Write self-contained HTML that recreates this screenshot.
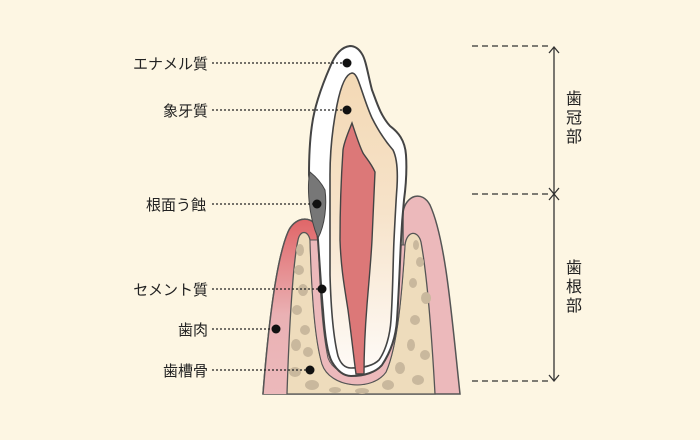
<!DOCTYPE html>
<html><head><meta charset="utf-8"><style>
body{margin:0;background:#fdf6e3;}
svg{display:block}
text{font-family:"Liberation Sans","Noto Sans CJK JP",sans-serif;fill:#222;}
</style></head><body>
<svg width="700" height="440" viewBox="0 0 700 440">
<defs>
<linearGradient id="gum" x1="0" y1="0" x2="0" y2="1">
<stop offset="0" stop-color="#e06668"/><stop offset="0.55" stop-color="#eab1b4"/><stop offset="1" stop-color="#ecb9bb"/></linearGradient>
<linearGradient id="dent" x1="0" y1="0" x2="0" y2="1">
<stop offset="0" stop-color="#f3d9b5"/><stop offset="0.45" stop-color="#f6e2c8"/><stop offset="1" stop-color="#fefaf6"/></linearGradient>
</defs>
<rect width="700" height="440" fill="#fdf6e3"/>
<!-- left gum -->
<path d="M263,394 C268,330 276,260 288,232 C294,218 310,214 317,227 L322,300 L350,386 L380,382 L403,300 L403,212 C406,195 422,190 430,205 C446,240 452,320 460,394 Z" fill="#ecb9bb" stroke="#555" stroke-width="1.5"/>
<path d="M263,394 C268,330 276,260 288,232 C294,218 310,214 317,227 L320,394 Z" fill="url(#gum)"/>
<path d="M263,394 C268,330 276,260 288,232 C294,218 310,214 317,227" fill="none" stroke="#555" stroke-width="1.5"/>
<!-- bone -->
<path d="M287,394 C289,330 293,262 298,240 C300,230 308,230 310,240 C312,300 315,340 322,364 C330,388 372,392 386,372 C398,345 402,290 405,245 C407,230 418,230 421,242 C428,280 432,340 435,394 Z" fill="#eedcbc" stroke="#555" stroke-width="1.3"/>
<g fill="#c9b89d">
<ellipse cx="300" cy="250" rx="4" ry="6"/><ellipse cx="299" cy="270" rx="5" ry="5"/><ellipse cx="303" cy="290" rx="5" ry="6"/>
<ellipse cx="297" cy="310" rx="5" ry="5"/><ellipse cx="305" cy="330" rx="5" ry="5"/><ellipse cx="296" cy="345" rx="5" ry="6"/>
<ellipse cx="308" cy="352" rx="5" ry="5"/><ellipse cx="295" cy="372" rx="6" ry="5"/><ellipse cx="312" cy="385" rx="7" ry="5"/>
<ellipse cx="335" cy="390" rx="6" ry="3"/><ellipse cx="362" cy="391" rx="7" ry="3"/><ellipse cx="388" cy="385" rx="6" ry="5"/>
<ellipse cx="400" cy="368" rx="5" ry="6"/><ellipse cx="418" cy="380" rx="6" ry="5"/><ellipse cx="411" cy="345" rx="4" ry="6"/>
<ellipse cx="425" cy="355" rx="5" ry="5"/><ellipse cx="415" cy="320" rx="5" ry="5"/><ellipse cx="426" cy="298" rx="5" ry="6"/>
<ellipse cx="413" cy="283" rx="4" ry="5"/><ellipse cx="420" cy="262" rx="4" ry="5"/><ellipse cx="416" cy="245" rx="3" ry="5"/>
</g>
<!-- membrane -->
<path d="M310,240 C312,300 315,340 322,364 C330,388 372,392 386,372 C398,345 402,290 405,245 L400,245 C397,290 394,330 384,358 C374,380 336,380 328,358 C322,330 320,290 318,240 Z" fill="#ecb9bb" stroke="#555" stroke-width="1"/>
<!-- tooth -->
<path d="M350,46 C340,47 334,57 330,67 C320,90 314,110 312,125 C309,145 309,165 309,175 C312,200 316,220 318,240 C320,270 322,300 323,310 C325,340 328,355 332,362 C338,372 344,376 351,376 C365,376 376,372 382,365 C392,350 396,335 397,320 C399,290 400,260 401,240 C402,220 403,210 404,200 C406,185 407,170 406,155 C405,140 398,132 390,126 C380,115 376,100 372,90 C368,75 366,60 362,54 C359,49 355,46 350,46 Z" fill="#fff" stroke="#444" stroke-width="2"/>
<path d="M352,73 C346,74 341,85 337,105 C333,125 330,150 330,175 C330,210 330,250 330,275 C331,310 334,340 338,356 C341,365 346,368 351,368 C364,368 374,365 379,360 C386,350 390,335 391,320 C393,290 393,260 394,240 C395,220 396,200 397,187 C398,170 397,158 393,150 C386,142 378,130 372,118 C366,105 362,90 358,80 C356,75 354,73 352,73 Z" fill="url(#dent)" stroke="#444" stroke-width="1.6"/>
<path d="M352,123 C348,133 344,142 343,150 C341,180 340,215 340,240 C341,270 345,290 348,310 C352,340 354,360 356,374 L364,374 C364,350 365,330 367,305 C369,280 371,260 372,240 C373,215 374,190 375,172 C371,163 366,158 363,153 C359,145 355,132 352,123 Z" fill="#dc7878" stroke="#444" stroke-width="1.4"/>
<!-- caries -->
<path d="M310,172 C307,185 308,215 318,238 C325,225 327,205 325,190 C321,182 315,176 310,172 Z" fill="#777" stroke="#444" stroke-width="1"/>
<!-- labels & leader lines -->
<g stroke="#222" stroke-width="1.2" stroke-dasharray="2,2">
<line x1="212" y1="63" x2="345" y2="63"/><line x1="212" y1="110" x2="345" y2="110"/>
<line x1="212" y1="204" x2="315" y2="204"/><line x1="212" y1="289" x2="320" y2="289"/>
<line x1="212" y1="329" x2="273" y2="329"/><line x1="212" y1="370" x2="308" y2="370"/>
</g>
<g fill="#111"><circle cx="347" cy="63" r="4.5"/><circle cx="347" cy="110" r="4.5"/><circle cx="317" cy="204" r="4.5"/>
<circle cx="322" cy="289" r="4.5"/><circle cx="276" cy="329" r="4.5"/><circle cx="310" cy="370" r="4.5"/></g>
<g font-size="15" text-anchor="end">
<text x="208" y="69">エナメル質</text><text x="208" y="116">象牙質</text><text x="206" y="210">根面う蝕</text>
<text x="208" y="295">セメント質</text><text x="208" y="335">歯肉</text><text x="208" y="376">歯槽骨</text>
</g>
<!-- right scale -->
<g stroke="#333" stroke-width="1.2" stroke-dasharray="6,4">
<line x1="472" y1="46" x2="550" y2="46"/><line x1="472" y1="194" x2="550" y2="194"/><line x1="472" y1="381" x2="550" y2="381"/>
</g>
<g stroke="#333" stroke-width="1.3" fill="none">
<line x1="554" y1="47" x2="554" y2="380"/>
<polyline points="549,53 554,47 559,53"/><polyline points="549,188 554,194 559,188"/>
<polyline points="549,200 554,194 559,200"/><polyline points="549,375 554,381 559,375"/>
</g>
<g font-size="16" text-anchor="middle">
<text x="574" y="104">歯</text><text x="574" y="123">冠</text><text x="574" y="142">部</text>
<text x="574" y="273">歯</text><text x="574" y="292">根</text><text x="574" y="311">部</text>
</g>
</svg>
</body></html>
